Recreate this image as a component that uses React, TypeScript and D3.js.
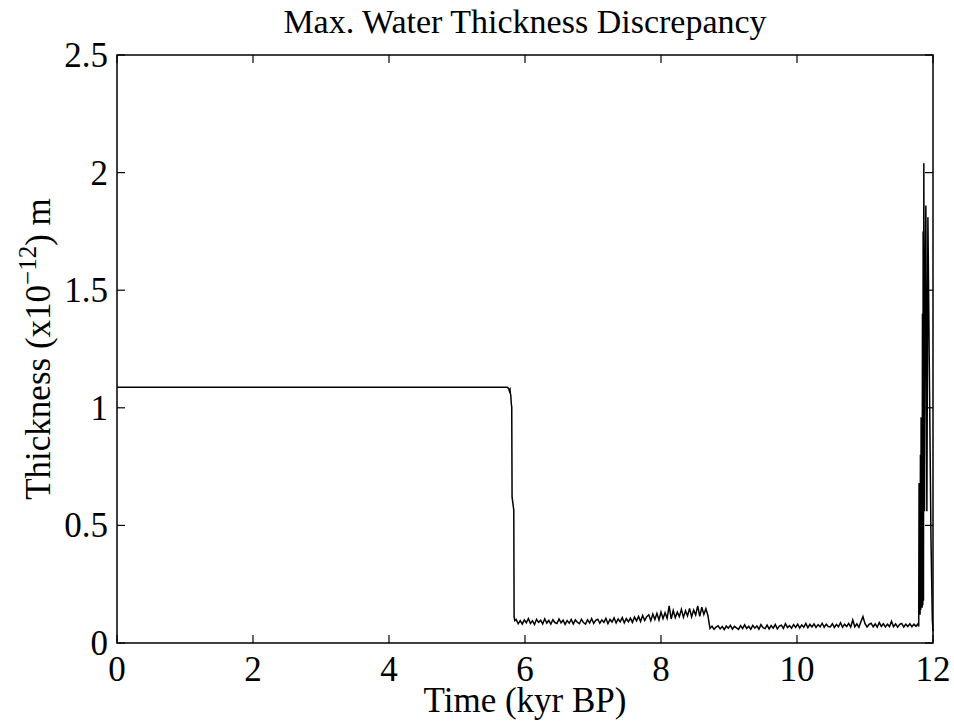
import React from "react";
import * as d3 from "d3";

// ---- Data (time in kyr BP, thickness in x10^-12 m) ----
const plateauTime = [0, 5.74, 5.76, 5.77, 5.78, 5.785, 5.79, 5.8, 5.805, 5.81, 5.835, 5.84, 5.85];
const plateauThickness = [1.087, 1.087, 1.082, 1.072, 1.078, 1.06, 1.055, 1.012, 1.005, 0.62, 0.565, 0.11, 0.095];

const noiseStart = 5.87;
const noiseStep = 0.03;
const noiseThickness = [
  // ~5.87 - 7.49
  0.100, 0.082, 0.095, 0.080, 0.098, 0.086, 0.104, 0.083, 0.094, 0.079,
  0.101, 0.088, 0.097, 0.081, 0.103, 0.085, 0.096, 0.080, 0.099, 0.087,
  0.083, 0.102, 0.086, 0.097, 0.079, 0.095, 0.084, 0.100, 0.081, 0.098,
  0.088, 0.082, 0.101, 0.087, 0.080, 0.099, 0.085, 0.104, 0.083, 0.096,
  0.101, 0.084, 0.098, 0.088, 0.105, 0.082, 0.100, 0.089, 0.107, 0.085,
  0.102, 0.090, 0.108, 0.086, 0.104,
  // ~7.52 - 8.69
  0.090, 0.106, 0.088, 0.110, 0.094, 0.113, 0.091, 0.117, 0.096, 0.112,
  0.120, 0.095, 0.123, 0.100, 0.126, 0.098, 0.132, 0.104, 0.129, 0.105,
  0.158, 0.102, 0.138, 0.108, 0.131, 0.112, 0.143, 0.109, 0.137, 0.115,
  0.147, 0.111, 0.140, 0.119, 0.158, 0.113, 0.152, 0.121, 0.146, 0.117,
  // ~8.72 - 11.78
  0.062, 0.071, 0.058, 0.068, 0.073, 0.060, 0.070, 0.057, 0.072, 0.063,
  0.075, 0.059, 0.071, 0.064, 0.058, 0.074, 0.061, 0.077, 0.062, 0.071,
  0.058, 0.075, 0.063, 0.072, 0.059, 0.078, 0.065, 0.061, 0.076, 0.060,
  0.074, 0.063, 0.079, 0.060, 0.072, 0.076, 0.062, 0.082, 0.066, 0.074,
  0.063, 0.078, 0.066, 0.080, 0.064, 0.077, 0.067, 0.083, 0.065, 0.079,
  0.068, 0.081, 0.066, 0.078, 0.069, 0.084, 0.067, 0.080, 0.070, 0.068,
  0.082, 0.066, 0.079, 0.069, 0.086, 0.067, 0.080, 0.070, 0.083, 0.068,
  0.098, 0.069, 0.081, 0.067, 0.090, 0.112, 0.082, 0.068, 0.079, 0.084,
  0.069, 0.081, 0.067, 0.087, 0.071, 0.082, 0.068, 0.080, 0.070, 0.092,
  0.069, 0.081, 0.067, 0.079, 0.083, 0.068, 0.080, 0.070, 0.082, 0.069,
  0.080, 0.071, 0.082,
];

const burstTime = [11.79, 11.795, 11.8, 11.805, 11.81, 11.815, 11.82, 11.825, 11.83, 11.835, 11.84, 11.845, 11.85, 11.855, 11.86, 11.865, 11.875, 11.885, 11.895, 11.91, 11.925, 11.945, 11.97, 11.99, 12.0];
const burstThickness = [0.07, 0.68, 0.15, 0.62, 0.12, 0.8, 0.14, 0.96, 0.16, 0.9, 0.15, 1.4, 0.16, 1.75, 0.18, 2.04, 0.56, 1.5, 1.86, 0.56, 1.81, 1.2, 0.45, 0.1, 0.05];

const xTicks = [0, 2, 4, 6, 8, 10, 12];
const yTicks = [0, 0.5, 1, 1.5, 2, 2.5];
const yTickLabels = ["0", "0.5", "1", "1.5", "2", "2.5"];

const titleText = "Max. Water Thickness Discrepancy";
const xLabelText = "Time (kyr BP)";

export default function App() {
  const W = 954, H = 724;
  const left = 117, top = 55, right = 933, bottom = 643;
  const x = d3.scaleLinear().domain([0, 12]).range([left, right]);
  const y = d3.scaleLinear().domain([0, 2.5]).range([bottom, top]);

  const pts: [number, number][] = [];
  plateauTime.forEach((t, i) => pts.push([t, plateauThickness[i]]));
  noiseThickness.forEach((v, i) => pts.push([noiseStart + i * noiseStep, v]));
  burstTime.forEach((t, i) => pts.push([t, burstThickness[i]]));

  const line = d3.line<[number, number]>().x((d) => x(d[0])).y((d) => y(d[1]));
  const font = "'Liberation Serif', 'Times New Roman', serif";
  const tickLen = 8;

  return (
    <svg width={W} height={H} style={{ position: "absolute", left: 0, top: 0, background: "#fff" }} fontFamily={font}>
      <rect x={0} y={0} width={W} height={H} fill="#fff" />
      <text x={(left + right) / 2} y={33} textAnchor="middle" fontSize={34}>{titleText}</text>
      <path d={line(pts) || ""} fill="none" stroke="#000" strokeWidth={1.5} strokeLinejoin="miter" />
      <rect x={left} y={top} width={right - left} height={bottom - top} fill="none" stroke="#000" strokeWidth={1.5} />
      {xTicks.map((t) => (
        <g key={"x" + t}>
          <line x1={x(t)} x2={x(t)} y1={bottom} y2={bottom - tickLen} stroke="#000" strokeWidth={1.2} />
          <line x1={x(t)} x2={x(t)} y1={top} y2={top + tickLen} stroke="#000" strokeWidth={1.2} />
          <text x={x(t)} y={681} textAnchor="middle" fontSize={35}>{t}</text>
        </g>
      ))}
      {yTicks.map((t, i) => (
        <g key={"y" + t}>
          <line x1={left} x2={left + tickLen} y1={y(t)} y2={y(t)} stroke="#000" strokeWidth={1.2} />
          <line x1={right} x2={right - tickLen} y1={y(t)} y2={y(t)} stroke="#000" strokeWidth={1.2} />
          <text x={108} y={y(t) + 12} textAnchor="end" fontSize={35}>{yTickLabels[i]}</text>
        </g>
      ))}
      <text x={(left + right) / 2} y={712} textAnchor="middle" fontSize={35}>{xLabelText}</text>
      <text transform={`translate(50, ${(top + bottom) / 2}) rotate(-90)`} textAnchor="middle" fontSize={35}>
        Thickness (x10<tspan dy={-14} fontSize={25}>−12</tspan><tspan dy={14}>) m</tspan>
      </text>
    </svg>
  );
}
